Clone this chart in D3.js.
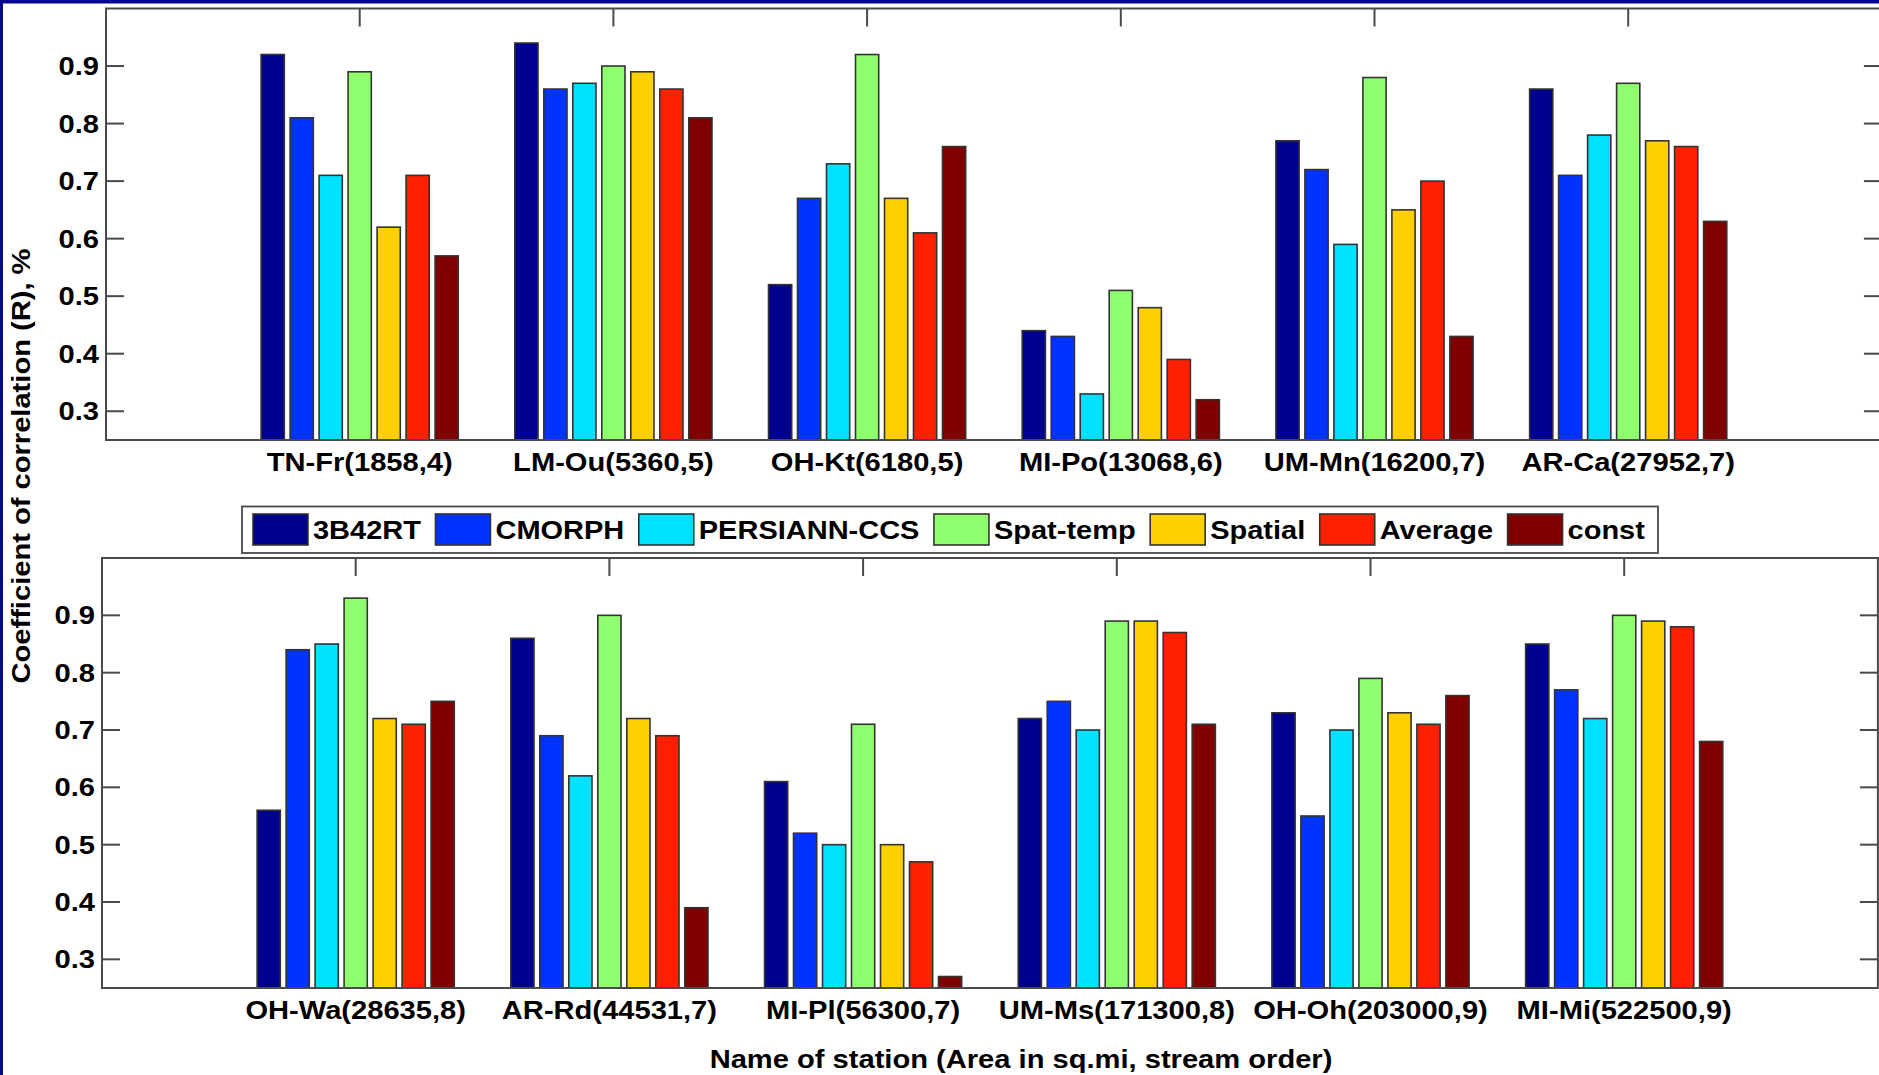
<!DOCTYPE html>
<html>
<head>
<meta charset="utf-8">
<script src="https://cdn.jsdelivr.net/npm/d3@7"></script>
<style>
  html, body { margin: 0; padding: 0; background: #ffffff; overflow: hidden; }
  svg { display: block; }
  text { font-family: "Liberation Sans", Arial, sans-serif; font-weight: bold; fill: #000; }
</style>
</head>
<body>
<svg id="chart" width="1879" height="1075"></svg>
<script>
// Correlation coefficient (R) of each precipitation product per gauging station
const methods = ["3B42RT", "CMORPH", "PERSIANN-CCS", "Spat-temp", "Spatial", "Average", "const"];
const methodColors = ["#000090", "#0033ff", "#00e0ff", "#8fff6f", "#ffd000", "#ff2000", "#800000"];

const stationsTop = ["TN-Fr(1858,4)", "LM-Ou(5360,5)", "OH-Kt(6180,5)", "MI-Po(13068,6)", "UM-Mn(16200,7)", "AR-Ca(27952,7)"];
const valuesTop = [
  [0.92, 0.81, 0.71, 0.89, 0.62, 0.71, 0.57],
  [0.94, 0.86, 0.87, 0.90, 0.89, 0.86, 0.81],
  [0.52, 0.67, 0.73, 0.92, 0.67, 0.61, 0.76],
  [0.44, 0.43, 0.33, 0.51, 0.48, 0.39, 0.32],
  [0.77, 0.72, 0.59, 0.88, 0.65, 0.70, 0.43],
  [0.86, 0.71, 0.78, 0.87, 0.77, 0.76, 0.63]
];

const stationsBottom = ["OH-Wa(28635,8)", "AR-Rd(44531,7)", "MI-Pl(56300,7)", "UM-Ms(171300,8)", "OH-Oh(203000,9)", "MI-Mi(522500,9)"];
const valuesBottom = [
  [0.56, 0.84, 0.85, 0.93, 0.72, 0.71, 0.75],
  [0.86, 0.69, 0.62, 0.90, 0.72, 0.69, 0.39],
  [0.61, 0.52, 0.50, 0.71, 0.50, 0.47, 0.27],
  [0.72, 0.75, 0.70, 0.89, 0.89, 0.87, 0.71],
  [0.73, 0.55, 0.70, 0.79, 0.73, 0.71, 0.76],
  [0.85, 0.77, 0.72, 0.90, 0.89, 0.88, 0.68]
];

const yTicks = [0.3, 0.4, 0.5, 0.6, 0.7, 0.8, 0.9];
const yDomain = [0.25, 1.0];

const svg = d3.select("#chart");
const FONT = 25;
const STRETCH = 1.165;
const frameColor = "#4a4a4a";

// wide lettering: text is scaled along its own baseline
function label(g, str, x, y, anchor, rotate, stretch) {
  return g.append("text")
    .attr("transform", `translate(${x},${y}) rotate(${rotate || 0}) scale(${stretch || STRETCH},1)`)
    .attr("text-anchor", anchor)
    .attr("font-size", FONT)
    .text(str);
}

function panel(box, stations, values) {
  const x = d3.scaleLinear().domain([0, 7]).range([box.left, box.left + 7 * box.step]);
  const y = d3.scaleLinear().domain(yDomain).range([box.bottom, box.top]);
  const g = svg.append("g");
  const right = x(7);
  const tickLen = 18;

  // white plotting area
  g.append("rect").attr("x", box.left).attr("y", box.top)
    .attr("width", right - box.left).attr("height", box.bottom - box.top)
    .attr("fill", "#fff");

  // category ticks, top and bottom
  stations.forEach((s, i) => {
    const cx = x(i + 1);
    g.append("line").attr("x1", cx).attr("x2", cx).attr("y1", box.top).attr("y2", box.top + tickLen)
      .attr("stroke", frameColor).attr("stroke-width", 2);
    g.append("line").attr("x1", cx).attr("x2", cx).attr("y1", box.bottom).attr("y2", box.bottom - tickLen)
      .attr("stroke", frameColor).attr("stroke-width", 2);
  });

  // grouped bars
  const pitch = 0.8 / methods.length;
  const barW = pitch * 0.8;
  values.forEach((row, i) => {
    row.forEach((v, j) => {
      const c = (i + 1) + (j - (methods.length - 1) / 2) * pitch;
      g.append("rect")
        .attr("x", x(c - barW / 2))
        .attr("y", y(v))
        .attr("width", x(c + barW / 2) - x(c - barW / 2))
        .attr("height", y(yDomain[0]) - y(v))
        .attr("fill", methodColors[j])
        .attr("stroke", "#333")
        .attr("stroke-width", 1.6);
    });
  });

  // y ticks on both sides
  yTicks.forEach(t => {
    const ty = y(t);
    g.append("line").attr("x1", box.left).attr("x2", box.left + tickLen).attr("y1", ty).attr("y2", ty)
      .attr("stroke", frameColor).attr("stroke-width", 2);
    g.append("line").attr("x1", right).attr("x2", right - tickLen).attr("y1", ty).attr("y2", ty)
      .attr("stroke", frameColor).attr("stroke-width", 2);
    label(g, t.toFixed(1), box.left - 7, ty + 9, "end");
  });

  // frame
  g.append("rect").attr("x", box.left).attr("y", box.top)
    .attr("width", right - box.left).attr("height", box.bottom - box.top)
    .attr("fill", "none").attr("stroke", frameColor).attr("stroke-width", 2);

  // station labels
  stations.forEach((s, i) => label(g, s, x(i + 1), box.bottom + 30.5, "middle"));
}

panel({ left: 106, top: 8.5, bottom: 440, step: 253.7 }, stationsTop, valuesTop);
panel({ left: 102, top: 558, bottom: 988, step: 253.7 }, stationsBottom, valuesBottom);

// legend row
const lg = svg.append("g");
const lgBox = { left: 242, top: 506.5, right: 1658, bottom: 553 };
const legendStretch = 1.16;
lg.append("rect").attr("x", lgBox.left).attr("y", lgBox.top)
  .attr("width", lgBox.right - lgBox.left).attr("height", lgBox.bottom - lgBox.top)
  .attr("fill", "#fff").attr("stroke", frameColor).attr("stroke-width", 1.8);
let lx = 253;
methods.forEach((m, j) => {
  lg.append("rect").attr("x", lx).attr("y", 514).attr("width", 55).attr("height", 31)
    .attr("fill", methodColors[j]).attr("stroke", "#333").attr("stroke-width", 1.6);
  const t = label(lg, m, lx + 60, 539, "start", 0, legendStretch);
  lx += 60 + t.node().getComputedTextLength() * legendStretch + 14.5;
});

// axis titles
label(svg, "Coefficient of correlation (R), %", 30, 466, "middle", -90);
label(svg, "Name of station (Area in sq.mi, stream order)", 1021, 1068, "middle");

// outer frame of the figure (top and left edges)
svg.append("rect").attr("x", 0).attr("y", 0).attr("width", 1879).attr("height", 3.5).attr("fill", "#06068f");
svg.append("rect").attr("x", 0).attr("y", 0).attr("width", 3).attr("height", 1075).attr("fill", "#06068f");
</script>
</body>
</html>
